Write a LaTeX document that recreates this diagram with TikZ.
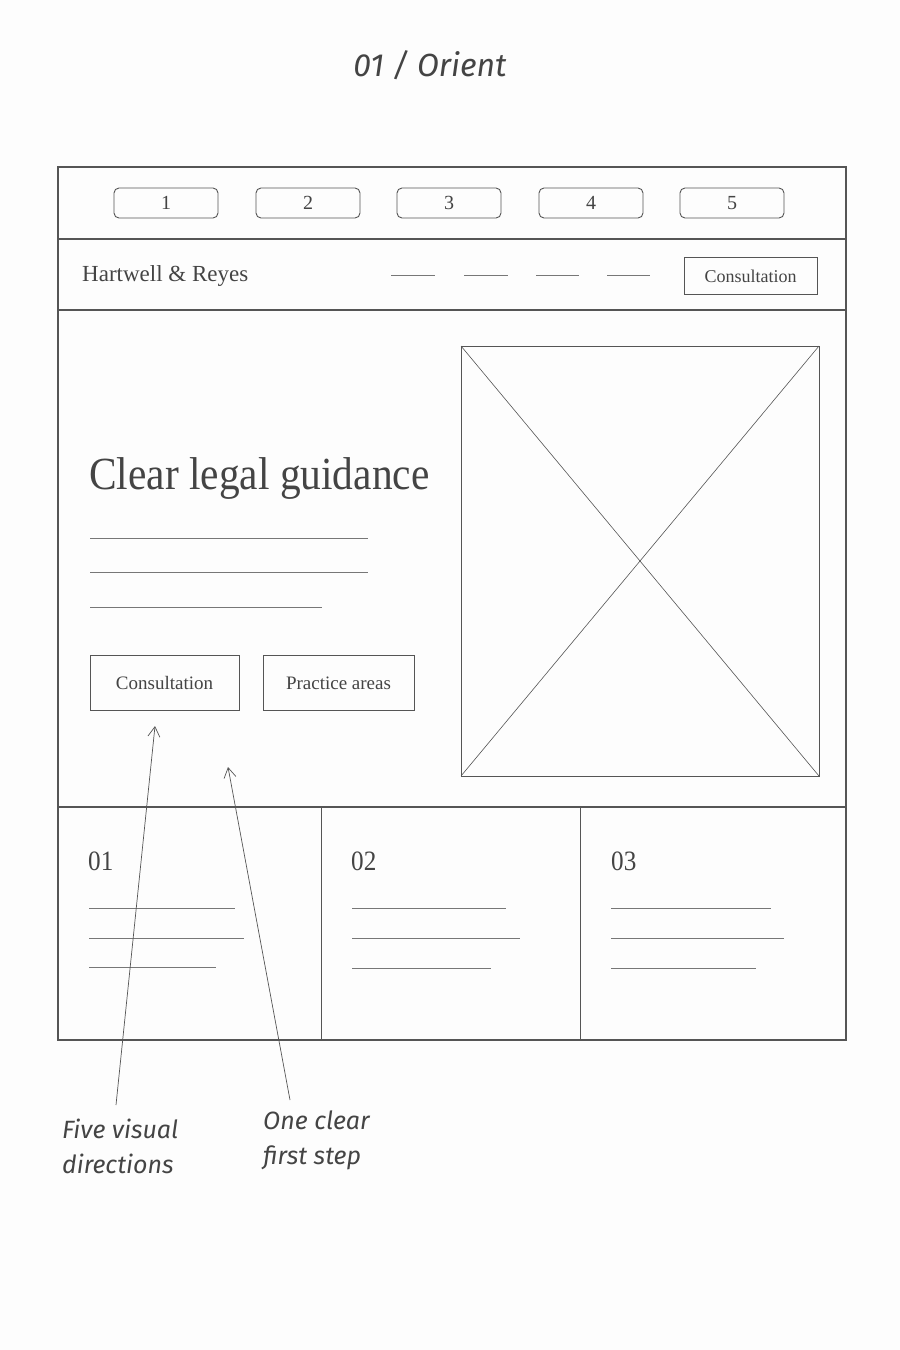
\documentclass[tikz,border=0pt]{standalone}
\usepackage{fontspec}
\setmainfont{Liberation Serif}
\newfontfamily\hand{Fira Sans}
\usetikzlibrary{arrows.meta}
\definecolor{ink}{HTML}{555555}
\definecolor{txt}{HTML}{444444}
\definecolor{paper}{HTML}{FDFDFD}
\tikzset{
  frame/.style={draw=ink, line width=1.2pt},
  thin/.style={draw=ink, line width=0.6pt},
  tabbtn/.style={draw=ink, line width=0.9pt, rounded corners=5pt, minimum width=104pt, minimum height=30pt, inner sep=0pt, text=txt, font=\fontsize{20}{22}\selectfont},
  sqbtn/.style={draw=ink, line width=1pt, inner sep=0pt, text=txt, text height=15pt, text depth=2pt},
  textline/.style={draw=ink!80, line width=0.9pt},
  note/.style={text=txt, font=\hand\itshape\fontsize{25}{35}\selectfont, align=left, anchor=north west, inner sep=0pt},
  pointer/.style={draw=ink, line width=0.7pt, -{Straight Barb[length=10pt,width=12pt]}},
}
\begin{document}
\begin{tikzpicture}[x=1pt,y=-1pt]
\useasboundingbox (0,0) rectangle (900,1350);
\fill[paper] (0,0) rectangle (900,1350);
% title
\node[text=txt, font=\hand\itshape\fontsize{32}{36}\selectfont] (title) at (430,65) {01 / Orient};
% outer frame
\draw[frame] (58,167) rectangle (846,1040);
\draw[frame] (58,239) -- (846,239);
\draw[frame] (58,310) -- (846,310);
\draw[frame] (58,807) -- (846,807);
% tabs
\node[tabbtn] (t1) at (166,203) {1};
\node[tabbtn] (t2) at (308,203) {2};
\node[tabbtn] (t3) at (449,203) {3};
\node[tabbtn] (t4) at (591,203) {4};
\node[tabbtn] (t5) at (732,203) {5};
% header
\node[anchor=west, text=txt, font=\fontsize{23}{26}\selectfont, inner sep=0pt] (brand) at (82,276) {Hartwell \& Reyes};
\draw[textline] (391,275) -- (435,275);
\draw[textline] (464,275) -- (508,275);
\draw[textline] (536,275) -- (579,275);
\draw[textline] (607,275) -- (650,275);
\node[sqbtn, minimum width=133pt, minimum height=37pt, font=\fontsize{18}{20}\selectfont] (hcta) at (750.5,275.5) {Consultation};
% hero
\node[anchor=base west, text=txt, font=\fontsize{46}{50}\selectfont, inner sep=0pt] (headline) at (89,489) {\scalebox{0.9}[1]{Clear legal guidance}};
\draw[textline] (90,538) -- (368,538);
\draw[textline] (90,572) -- (368,572);
\draw[textline] (90,607) -- (322,607);
\node[sqbtn, minimum width=149pt, minimum height=55pt, font=\fontsize{19}{21}\selectfont] (cta) at (164.5,682.5) {Consultation};
\node[sqbtn, minimum width=151pt, minimum height=55pt, font=\fontsize{19}{21}\selectfont] (areas) at (338.5,682.5) {Practice areas};
% image placeholder
\draw[thin, line width=0.9pt] (461,346) rectangle (819,776);
\draw[thin] (461,346) -- (819,776);
\draw[thin] (819,346) -- (461,776);
% columns
\draw[thin] (321,807) -- (321,1040);
\draw[thin] (580,807) -- (580,1040);
\node[anchor=base west, text=txt, font=\fontsize{28}{30}\selectfont, inner sep=0pt] (c1) at (88,870) {\scalebox{0.9}[1]{01}};
\node[anchor=base west, text=txt, font=\fontsize{28}{30}\selectfont, inner sep=0pt] (c2) at (351,870) {\scalebox{0.9}[1]{02}};
\node[anchor=base west, text=txt, font=\fontsize{28}{30}\selectfont, inner sep=0pt] (c3) at (611,870) {\scalebox{0.9}[1]{03}};
\draw[textline] (89,908) -- (235,908);
\draw[textline] (89,938) -- (244,938);
\draw[textline] (89,967) -- (216,967);
\draw[textline] (352,908) -- (506,908);
\draw[textline] (352,938) -- (520,938);
\draw[textline] (352,968) -- (491,968);
\draw[textline] (611,908) -- (771,908);
\draw[textline] (611,938) -- (784,938);
\draw[textline] (611,968) -- (756,968);
% annotations
\node[note] (n1) at (62,1119) {Five visual\\directions};
\node[note] (n2) at (263,1111) {One clear\\first step};
\coordinate (p1) at (155,726);
\coordinate (p2) at (228,767);
\coordinate (s1) at (116,1105);
\coordinate (s2) at (290,1100);
\draw[pointer] (s1) -- (p1);
\draw[pointer] (s2) -- (p2);
\end{tikzpicture}
\end{document}
